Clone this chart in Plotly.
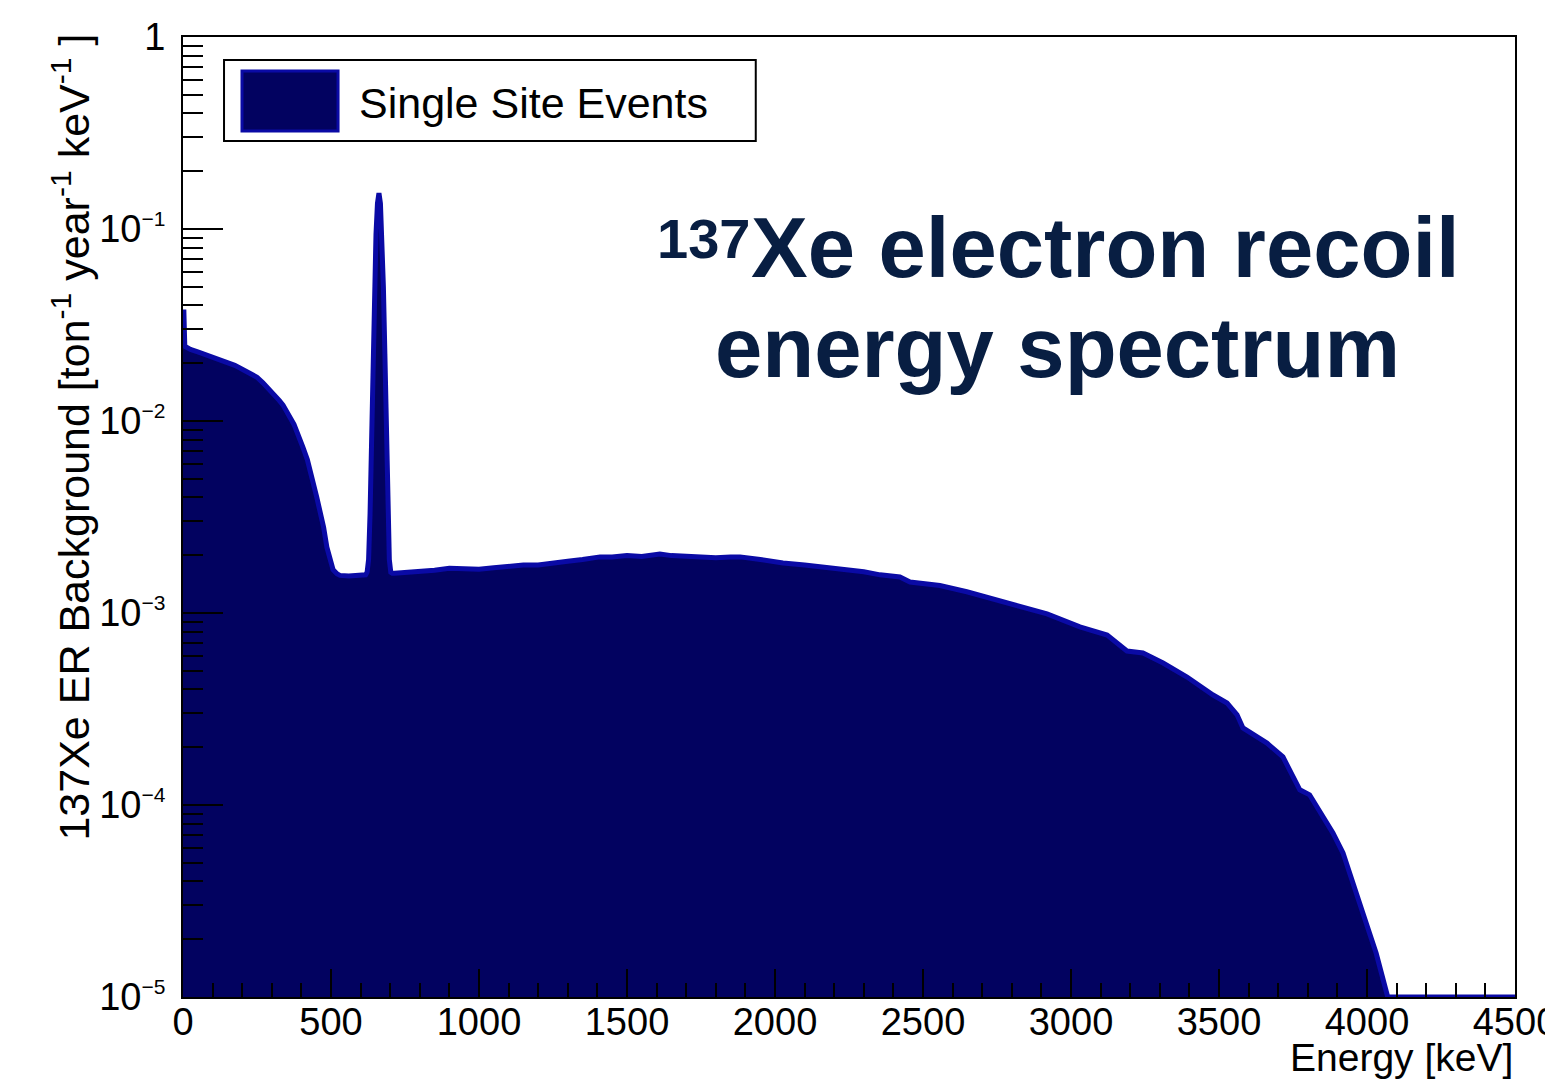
import plotly.graph_objects as go

# ---- data (energy in keV, rate in ton^-1 year^-1 keV^-1)
energy_kev = [0, 3, 6, 25, 50, 75, 100, 125, 150, 175, 200, 225, 250, 270, 300, 325, 338,
              350, 375, 405, 420, 452, 475, 486, 500, 507, 520, 530,
              560, 600, 617, 622, 627, 632, 637, 642, 647, 652, 657, 662, 667, 672, 677, 682,
              687, 692, 697, 702, 707, 715,
              750, 800, 850, 900, 950, 1000, 1050, 1100, 1150, 1200, 1250, 1300, 1350,
              1409, 1450, 1500, 1550, 1611, 1650, 1700, 1747, 1800, 1850, 1882, 1950,
              2027, 2100, 2196, 2250, 2300, 2355, 2422, 2456, 2557, 2648, 2784, 2919,
              3030, 3122, 3189, 3243, 3311, 3392, 3480, 3527, 3561, 3581, 3662, 3716,
              3773, 3806, 3885, 3919, 3986, 4031, 4070, 4080, 4500]
rate = [0.037, 0.037, 0.0245, 0.0236, 0.0229, 0.0222, 0.0215, 0.0209, 0.0202, 0.0195,
        0.0186, 0.0178, 0.0169, 0.0158, 0.0142, 0.0128, 0.0121,
        0.0113, 0.0096, 0.0073, 0.0063, 0.0040, 0.0028, 0.0022, 0.00185, 0.00168,
        0.00160, 0.00157,
        0.00156, 0.00158, 0.00158, 0.00163, 0.0019, 0.0033, 0.0084, 0.0224, 0.050, 0.0935,
        0.136, 0.154, 0.136, 0.0935, 0.050, 0.0224, 0.0084, 0.0033, 0.0019, 0.00163,
        0.00161, 0.00161,
        0.00162, 0.00165, 0.00167, 0.00171, 0.00170, 0.00169, 0.00172, 0.00176, 0.00178,
        0.00178, 0.00181, 0.00186, 0.00190,
        0.00196, 0.00196, 0.00199, 0.00197, 0.00203, 0.00199, 0.00197, 0.00196, 0.00194,
        0.00196, 0.00196, 0.00190,
        0.00182, 0.00178, 0.00171, 0.00168, 0.00164, 0.00158, 0.00154, 0.00145, 0.00139,
        0.00129, 0.00113, 0.00099,
        0.000846, 0.000767, 0.000634, 0.000619, 0.000549, 0.000464, 0.000374, 0.00034,
        0.000295, 0.000252, 0.00021, 0.000178,
        0.00012, 0.000113, 0.0000714, 0.0000562, 0.0000274, 0.0000169, 0.00001, 0.00001,
        0.00001]

y_tick_values = [1e-5, 1e-4, 1e-3, 1e-2, 1e-1, 1]
y_tick_exponents = ["\u22125", "\u22124", "\u22123", "\u22122", "\u22121", None]

legend_label = "Single Site Events"
y_title = "137Xe ER Background [ton<sup>-1</sup> year<sup>-1</sup> keV<sup>-1</sup> ]"
x_title = "Energy [keV]"

FONT = "Liberation Sans, Arial, Helvetica, sans-serif"
FILL = "rgb(2,2,96)"
LINE = "rgb(10,10,165)"
TITLE_C = "rgb(8,30,66)"

y_tick_text = [
    ("10<sup><span style='font-size:21px'>%s</span></sup>" % e) if e else "1"
    for e in y_tick_exponents
]

fig = go.Figure()
fig.add_trace(go.Scatter(
    x=energy_kev, y=rate, mode="lines", fill="tozeroy",
    fillcolor=FILL, line=dict(color=LINE, width=5),
    name=legend_label, showlegend=False,
))

fig.update_layout(
    width=1545, height=1079,
    margin=dict(l=183, r=30, t=37, b=82),
    paper_bgcolor="white", plot_bgcolor="white",
    font=dict(family=FONT, size=38, color="black"),
    showlegend=False,
)

fig.update_xaxes(
    range=[0, 4500], showgrid=False, zeroline=False, automargin=False,
    showline=True, linecolor="black", linewidth=2, mirror=True,
    tick0=0, dtick=500, ticks="inside", ticklen=28, tickwidth=2, tickcolor="black",
    minor=dict(dtick=100, ticks="inside", ticklen=14, tickwidth=2, tickcolor="black", showgrid=False),
    tickfont=dict(size=38), ticklabelstandoff=-10, ticklabeloverflow="allow",
)
fig.update_yaxes(
    type="log", range=[-5, 0], showgrid=False, zeroline=False, automargin=False,
    showline=True, linecolor="black", linewidth=2, mirror=True,
    tickmode="array", tickvals=y_tick_values, ticktext=y_tick_text,
    ticks="inside", ticklen=40, tickwidth=2, tickcolor="black",
    minor=dict(dtick="D1", ticks="inside", ticklen=20, tickwidth=2, tickcolor="black", showgrid=False),
    tickfont=dict(size=38), ticklabelstandoff=8,
)

# legend box (ROOT-style)
fig.add_shape(type="rect", xref="paper", yref="paper", x0=0.0308, x1=0.430, y0=0.8917, y1=0.976,
              line=dict(color="black", width=2), fillcolor="white", layer="above")
fig.add_shape(type="rect", xref="paper", yref="paper", x0=0.0443, x1=0.1164, y0=0.9021, y1=0.9646,
              line=dict(color=LINE, width=3), fillcolor=FILL, layer="above")
fig.add_annotation(text=legend_label, xref="paper", yref="paper", x=0.1306, y=0.9313,
                   xanchor="left", yanchor="middle", showarrow=False,
                   font=dict(size=43, color="black"))

# big title text
fig.add_annotation(text="137", xref="paper", yref="paper", x=0.3911, y=0.7900,
                   xanchor="center", yanchor="middle", showarrow=False,
                   font=dict(size=56, color=TITLE_C, family=FONT, weight="bold"))
fig.add_annotation(text="Xe electron recoil", xref="paper", yref="paper", x=0.6929, y=0.7807,
                   xanchor="center", yanchor="middle", showarrow=False,
                   font=dict(size=85, color=TITLE_C, family=FONT, weight="bold"))
fig.add_annotation(text="energy spectrum", xref="paper", yref="paper", x=0.6569, y=0.6766,
                   xanchor="center", yanchor="middle", showarrow=False,
                   font=dict(size=85, color=TITLE_C, family=FONT, weight="bold"))

# axis titles
fig.add_annotation(text=y_title, xref="paper", yref="paper", x=-0.0848, y=0.5828,
                   xanchor="center", yanchor="middle", textangle=-90, showarrow=False,
                   font=dict(size=43, color="black"))
fig.add_annotation(text=x_title, xref="paper", yref="paper", x=1.0, y=-0.0635,
                   xanchor="right", yanchor="middle", showarrow=False,
                   font=dict(size=39, color="black"))

fig.write_html("out.html")
